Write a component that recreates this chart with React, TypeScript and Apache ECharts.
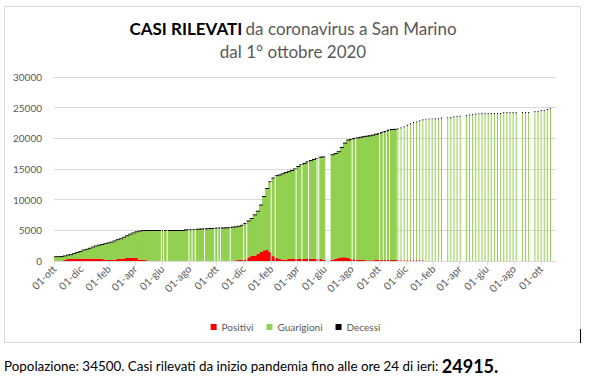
import React, { useEffect, useRef } from "react";
import * as echarts from "echarts";

// Weekly samples starting 01-ott-2020 (one value per week)
const casiTotali: (number | null)[] = [
  770, 780, 800, 900, 1040, 1100, 1280, 1470, 1620, 1860,
  1980, 2150, 2350, 2520, 2650, 2760, 2900, 3020, 3150, 3350,
  3550, 3700, 3950, 4200, 4450, 4650, 4830, 4950, 5020, 5040,
  5050, 5050, 5050, 5050, 5050, 5050, 5050, 5050, 5050, 5050,
  5050, 5060, 5160, 5170, 5200, 5220, 5270, 5300, 5320, 5350,
  5380, 5400, 5440, 5450, 5460, 5480, 5520, 5600, 5650, 5750,
  5900, 6200, 6600, 7000, 7600, 8200, 9200, 10600, 11900, 13000,
  13600, 14000, 14100, 14300, 14500, 14650, 14850, 15100, 15500, 15800,
  16000, 16250, 16450, 16650, 16800, 17000, 17050, null, null, 17400,
  17600, 17900, 18600, 19300, 19800, 19900, 20050, 20150, 20250, 20350,
  20430, 20500, 20600, 20750, 20870, 21050, 21200, 21400, 21520, 21550,
  21680, 21800, 21950, 22200, 22450, 22650, 22800, 22950, 23100, 23200,
  23250, 23250, 23260, 23280, 23400, null, 23450, 23480, 23600, 23650,
  23700, null, 23800, 23900, 23980, 24050, 24100, 24130, 24130, 24130,
  24130, 24130, 24130, 24130, 24290, 24290, 24290, 24290, 24290, null,
  24290, 24290, 24290, null, 24450, 24450, 24620, 24620, 24780, 24915,
];

const positivi: (number | null)[] = [
  30, 30, 40, 200, 330, 330, 330, 330, 360, 380,
  380, 380, 380, 380, 380, 350, 160, 160, 160, 200,
  380, 380, 420, 500, 540, 540, 500, 220, 220, 150,
  20, 20, 20, 20, 20, 20, 20, 20, 20, 20,
  20, 20, 20, 20, 20, 20, 20, 20, 20, 20,
  20, 20, 20, 20, 20, 20, 20, 20, 120, 180,
  220, 250, 600, 870, 900, 1200, 1470, 1750, 1800, 1450,
  800, 500, 350, 220, 220, 330, 330, 330, 330, 330,
  330, 330, 330, 330, 330, 330, 220, null, null, 220,
  380, 550, 600, 600, 500, 300, 270, 250, 160, 160,
  100, 100, 100, 160, 180, 180, 180, 180, 180, 180,
  150, 150, 150, 150, 150, 150, 150, 150, 150, 0,
  0, 0, 0, 0, 0, null, 0, 0, 0, 0,
  0, null, 0, 0, 0, 0, 0, 0, 0, 0,
  0, 0, 0, 0, 0, 0, 0, 0, 0, null,
  0, 0, 0, null, 0, 0, 0, 0, 0, 0,
];

const decessi: (number | null)[] = [
  150, 150, 150, 150, 150, 150, 150, 150, 150, 150,
  150, 150, 150, 150, 150, 150, 150, 150, 150, 150,
  150, 150, 150, 150, 150, 150, 150, 150, 150, 150,
  160, 160, 160, 160, 160, 160, 160, 160, 160, 160,
  160, 160, 160, 160, 160, 160, 160, 160, 160, 160,
  160, 160, 160, 160, 160, 160, 160, 160, 160, 160,
  160, 160, 160, 160, 160, 160, 160, 160, 160, 160,
  170, 170, 170, 170, 170, 170, 170, 170, 170, 170,
  170, 170, 170, 170, 170, 170, 170, null, null, 170,
  170, 170, 170, 170, 170, 170, 170, 170, 170, 170,
  170, 170, 170, 170, 170, 170, 170, 170, 170, 170,
  190, 190, 190, 190, 190, 190, 190, 190, 190, 190,
  190, 190, 190, 190, 190, null, 190, 190, 190, 190,
  190, null, 190, 190, 190, 190, 190, 190, 190, 190,
  190, 190, 190, 190, 190, 190, 190, 190, 190, null,
  190, 190, 190, null, 190, 190, 190, 190, 190, 190,
];

// Days without data (white lines in the dense part)
const giorniMancanti = [
  "2021-05-30", "2021-06-04", "2021-06-12", "2021-07-31", "2021-08-07",
  "2021-08-14", "2021-09-04", "2021-09-27", "2021-10-04", "2021-10-10",
  "2021-11-01", "2021-12-01", "2021-12-08", "2022-02-01", "2022-02-10",
  "2022-03-29", "2022-04-11", "2022-04-26", "2022-05-15", "2022-05-19",
  "2022-08-02", "2022-08-10", "2022-10-03", "2022-10-11", "2022-10-18",
  "2022-10-25",
];

const etichetteAsse = [
  "2020-10-01", "2020-12-01", "2021-02-01", "2021-04-01", "2021-06-01",
  "2021-08-01", "2021-10-01", "2021-12-01", "2022-02-01", "2022-04-01",
  "2022-06-01", "2022-08-01", "2022-10-01", "2022-12-01", "2023-02-01",
  "2023-04-01", "2023-06-01", "2023-08-01", "2023-10-01",
];
const mesi = ["gen", "feb", "mar", "apr", "mag", "giu", "lug", "ago", "set", "ott", "nov", "dic"];

const inizioDati = "2020-10-01";
const fineAsse = "2023-11-04";
const inizioSoloSettimanale = "2022-11-11";

const FONT = "Lato";
const GRIGIO = "#595959";
const GIORNO = 86400000;

function toTime(s: string): number {
  const [y, m, d] = s.split("-").map(Number);
  return Date.UTC(y, m - 1, d);
}
const T0 = toTime(inizioDati);
function toDay(s: string): number {
  return Math.round((toTime(s) - T0) / GIORNO);
}
function dayLabel(i: number): string {
  const d = new Date(T0 + i * GIORNO);
  return String(d.getUTCDate()).padStart(2, "0") + "-" + mesi[d.getUTCMonth()];
}

export default function App() {
  const ref = useRef<HTMLDivElement>(null);
  useEffect(() => {
    if (!ref.current) return;
    const chart = echarts.init(ref.current, null, { renderer: "svg" });

    // one category per calendar day
    const nGiorni = toDay(fineAsse);
    const giorni: string[] = [];
    for (let i = 0; i < nGiorni; i++) giorni.push(dayLabel(i));
    const tickSet = new Set(etichetteAsse.map(toDay));

    const daySplit = toDay(inizioSoloSettimanale);
    const build = (late: boolean) => {
      const pos: any[] = [], gua: any[] = [], dec: any[] = [];
      casiTotali.forEach((tot, i) => {
        const x = 7 * i + 3; // middle day of week i
        if ((x >= daySplit) !== late) return;
        if (tot == null) return;
        const p = positivi[i] ?? 0;
        const d = decessi[i] ?? 0;
        pos.push([x, p]);
        gua.push([x, tot - p - d]);
        dec.push([x, d]);
      });
      return { pos, gua, dec };
    };
    const early = build(false);
    const late = build(true);

    const gapData = giorniMancanti.map((s) => {
      const x = toDay(s);
      const tot = casiTotali[Math.floor(x / 7)] ?? 0;
      return [x, tot];
    });

    const mkSeries = (name: string, color: string, data: any[], axis: number, stack: string, w: number) => ({
      name,
      type: "bar",
      xAxisIndex: axis,
      stack,
      barWidth: w,
      data,
      itemStyle: { color },
      emphasis: { disabled: true },
      large: false,
    });

    const hiddenAxis = { type: "category", data: giorni, show: false };

    chart.setOption({
      animation: false,
      backgroundColor: "#ffffff",
      textStyle: { fontFamily: FONT },
      grid: { left: 54, right: 35, top: 77, bottom: 124, containLabel: false },
      xAxis: [
        {
          type: "category",
          data: giorni,
          axisLine: { show: true, lineStyle: { color: "#D9D9D9", width: 1 } },
          axisTick: {
            show: true,
            alignWithLabel: true,
            interval: (i: number) => tickSet.has(i),
            length: 4,
            lineStyle: { color: "#D9D9D9" },
          },
          splitLine: { show: false },
          axisLabel: {
            interval: (i: number) => tickSet.has(i),
            rotate: 45,
            hideOverlap: false,
            color: GRIGIO,
            fontSize: 10.5,
            fontFamily: FONT,
            margin: 6,
          },
        },
        hiddenAxis,
        hiddenAxis,
      ],
      yAxis: {
        type: "value",
        min: 0,
        max: 30000,
        interval: 5000,
        axisLine: { show: false },
        axisTick: { show: false },
        splitLine: { lineStyle: { color: "#D9D9D9", width: 1 } },
        axisLabel: {
          color: GRIGIO,
          fontSize: 10,
          fontFamily: FONT,
          margin: 12,
          formatter: (v: number) => String(v),
        },
      },
      legend: {
        data: ["Positivi", "Guarigioni", "Decessi"],
        left: "center",
        top: 317,
        icon: "rect",
        itemWidth: 6,
        itemHeight: 6,
        itemGap: 13,
        textStyle: { color: GRIGIO, fontSize: 10, fontFamily: FONT },
      },
      series: [
        mkSeries("Positivi", "#FF0000", early.pos, 0, "dense", 4),
        mkSeries("Guarigioni", "#92D050", early.gua, 0, "dense", 4),
        mkSeries("Decessi", "#000000", early.dec, 0, "dense", 4),
        mkSeries("Positivi", "#FF0000", late.pos, 1, "settimanale", 1),
        mkSeries("Guarigioni", "#92D050", late.gua, 1, "settimanale", 1),
        mkSeries("Decessi", "#000000", late.dec, 1, "settimanale", 1),
        {
          name: "mancanti",
          type: "bar",
          xAxisIndex: 2,
          barWidth: 1,
          data: gapData,
          itemStyle: { color: "#ffffff" },
          emphasis: { disabled: true },
          z: 3,
        },
      ],
      graphic: [
        {
          type: "rect",
          shape: { x: 4.5, y: 6.5, width: 576, height: 336 },
          style: { fill: "none", stroke: "#D9D9D9", lineWidth: 1 },
          silent: true,
        },
        {
          type: "line",
          shape: { x1: 580.5, y1: 329, x2: 580.5, y2: 343 },
          style: { stroke: "#000000", lineWidth: 1 },
          silent: true,
        },
        {
          type: "text",
          x: 293,
          y: 28,
          style: {
            text: "{b|CASI RILEVATI} {n|da coronavirus a San Marino}",
            align: "center",
            verticalAlign: "middle",
            rich: {
              b: { fontFamily: FONT, fontSize: 17, fontWeight: "bold", fill: "#000000" },
              n: { fontFamily: FONT, fontSize: 17, fill: GRIGIO },
            },
          },
        },
        {
          type: "text",
          x: 293,
          y: 51,
          style: {
            text: "dal 1° ottobre 2020",
            align: "center",
            verticalAlign: "middle",
            fontFamily: FONT,
            fontSize: 17,
            fill: GRIGIO,
          },
        },
        {
          type: "text",
          x: 4,
          y: 366,
          style: {
            text: "{a|Popolazione: 34500. Casi rilevati da inizio pandemia fino alle ore 24 di ieri: }{b|24915.}",
            align: "left",
            verticalAlign: "middle",
            rich: {
              a: { fontFamily: FONT, fontSize: 13.4, fill: "#000000" },
              b: { fontFamily: FONT, fontSize: 18, fontWeight: "bold", fill: "#000000" },
            },
          },
        },
      ],
    });
    return () => chart.dispose();
  }, []);
  return (
    <div
      ref={ref}
      style={{ position: "fixed", left: 0, top: 0, width: 591, height: 385, background: "#fff" }}
    />
  );
}
